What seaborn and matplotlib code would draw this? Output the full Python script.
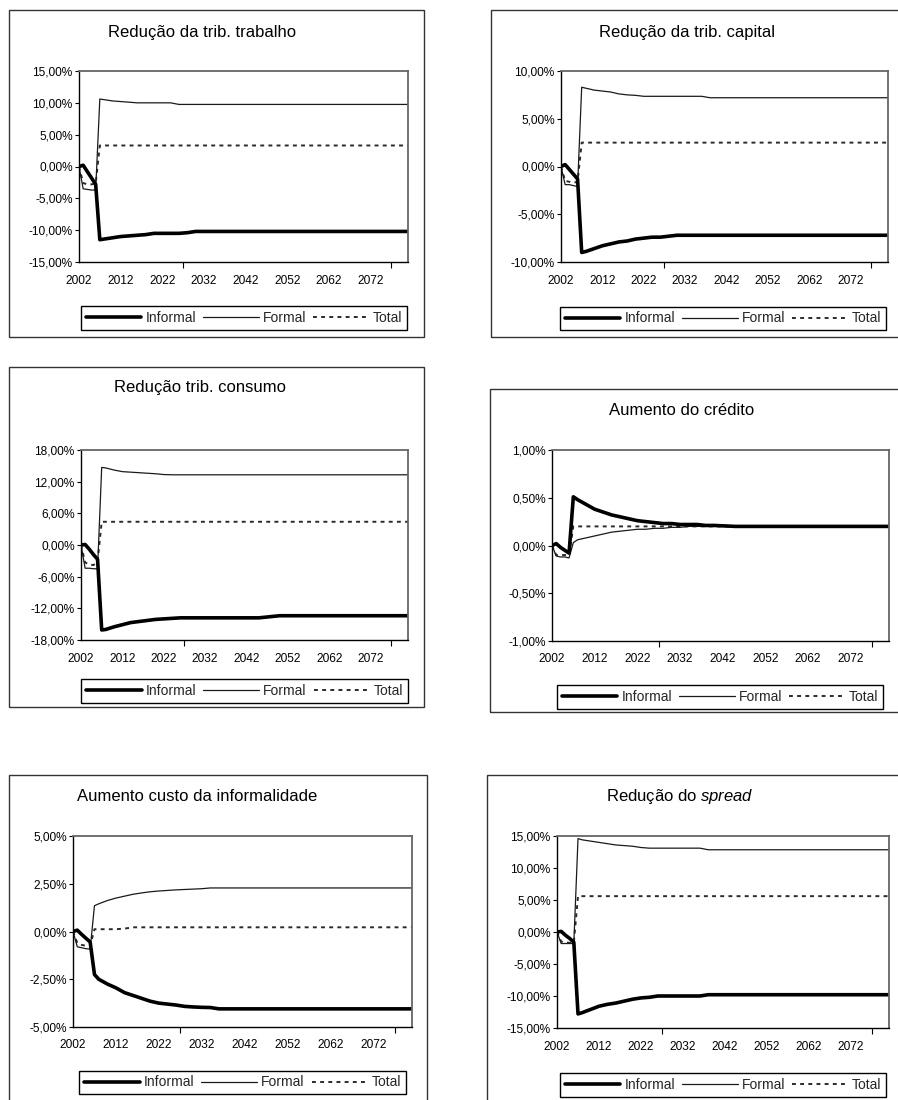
import matplotlib
matplotlib.use('Agg')
import matplotlib.pyplot as plt
import seaborn as sns
import numpy as np
from matplotlib.lines import Line2D
from matplotlib.patches import Rectangle
from matplotlib.ticker import FuncFormatter

# years with a point (lines are straight in between)
YEARS = [2002, 2003, 2004, 2005, 2006, 2007, 2008, 2010, 2012, 2014, 2016, 2018, 2020, 2022,
         2024, 2026, 2028, 2030, 2032, 2034, 2036, 2038, 2040, 2045, 2050, 2060, 2070, 2081]

X_LABEL_YEARS = [2002, 2012, 2022, 2032, 2042, 2052, 2062, 2072]
X_MARK_YEARS = [2027, 2052, 2077]
LEGEND_LABELS = ['Informal', 'Formal', 'Total']

TITLES = ['Redução da trib. trabalho', 'Redução da trib. capital', 'Redução trib. consumo',
          'Aumento do crédito', 'Aumento custo da informalidade', r'Redução do $\it{spread}$']

Y_LIMS = [(-15, 15), (-10, 10), (-18, 18), (-1, 1), (-5, 5), (-15, 15)]
Y_STEPS = [5, 5, 6, 0.5, 2.5, 5]

# values in %
INF_TRABALHO = [0, 0.2, -0.8, -1.8, -2.8, -11.5, -11.4, -11.2, -11.0, -10.9, -10.8, -10.7, -10.5, -10.5,
                -10.5, -10.5, -10.4, -10.2, -10.2, -10.2, -10.2, -10.2, -10.2, -10.2, -10.2, -10.2, -10.2, -10.2]
FOR_TRABALHO = [0, -3.5, -3.6, -3.7, -3.7, 10.6, 10.5, 10.3, 10.2, 10.1, 10.0, 10.0, 10.0, 10.0,
                10.0, 9.75, 9.75, 9.75, 9.75, 9.75, 9.75, 9.75, 9.75, 9.75, 9.75, 9.75, 9.75, 9.75]
TOT_TRABALHO = [0, -2.6, -2.8, -2.8, -2.7, 3.3, 3.3, 3.3, 3.3, 3.3, 3.3, 3.3, 3.3, 3.3,
                3.3, 3.3, 3.3, 3.3, 3.3, 3.3, 3.3, 3.3, 3.3, 3.3, 3.3, 3.3, 3.3, 3.3]

INF_CAPITAL = [0, 0.2, -0.3, -0.8, -1.3, -9.0, -8.9, -8.6, -8.3, -8.1, -7.9, -7.8, -7.6, -7.5,
               -7.4, -7.4, -7.3, -7.2, -7.2, -7.2, -7.2, -7.2, -7.2, -7.2, -7.2, -7.2, -7.2, -7.2]
FOR_CAPITAL = [0, -1.9, -1.9, -2.0, -2.1, 8.3, 8.2, 8.0, 7.9, 7.8, 7.6, 7.5, 7.45, 7.35,
               7.35, 7.35, 7.35, 7.35, 7.35, 7.35, 7.35, 7.2, 7.2, 7.2, 7.2, 7.2, 7.2, 7.2]
TOT_CAPITAL = [0, -1.5, -1.6, -1.7, -1.6, 2.5, 2.5, 2.5, 2.5, 2.5, 2.5, 2.5, 2.5, 2.5,
               2.5, 2.5, 2.5, 2.5, 2.5, 2.5, 2.5, 2.5, 2.5, 2.5, 2.5, 2.5, 2.5, 2.5]

INF_CONSUMO = [0, 0.1, -0.8, -1.8, -2.7, -16.1, -16.0, -15.5, -15.1, -14.7, -14.5, -14.3, -14.1, -14.0,
               -13.9, -13.8, -13.8, -13.8, -13.8, -13.8, -13.8, -13.8, -13.8, -13.8, -13.4, -13.4, -13.4, -13.4]
FOR_CONSUMO = [0, -4.4, -4.4, -4.5, -4.5, 14.7, 14.6, 14.2, 13.9, 13.8, 13.7, 13.6, 13.5, 13.35,
               13.3, 13.3, 13.3, 13.3, 13.3, 13.3, 13.3, 13.3, 13.3, 13.3, 13.3, 13.3, 13.3, 13.3]
TOT_CONSUMO = [0, -3.3, -3.7, -3.8, -3.2, 4.4, 4.4, 4.4, 4.4, 4.4, 4.4, 4.4, 4.4, 4.4,
               4.4, 4.4, 4.4, 4.4, 4.4, 4.4, 4.4, 4.4, 4.4, 4.4, 4.4, 4.4, 4.4, 4.4]

INF_CREDITO = [0, 0.02, -0.02, -0.05, -0.08, 0.51, 0.48, 0.43, 0.38, 0.35, 0.32, 0.30, 0.28, 0.26,
               0.25, 0.24, 0.23, 0.23, 0.22, 0.22, 0.22, 0.21, 0.21, 0.20, 0.20, 0.20, 0.20, 0.20]
FOR_CREDITO = [0, -0.11, -0.12, -0.12, -0.13, 0.03, 0.06, 0.08, 0.10, 0.12, 0.14, 0.15, 0.16, 0.17,
               0.17, 0.18, 0.18, 0.19, 0.19, 0.20, 0.20, 0.20, 0.20, 0.20, 0.20, 0.20, 0.20, 0.20]
TOT_CREDITO = [0, -0.1, -0.1, -0.1, -0.1, 0.2, 0.2, 0.2, 0.2, 0.2, 0.2, 0.2, 0.2, 0.2,
               0.2, 0.2, 0.2, 0.2, 0.2, 0.2, 0.2, 0.2, 0.2, 0.2, 0.2, 0.2, 0.2, 0.2]

INF_INFORMAL = [0, 0.07, -0.15, -0.35, -0.55, -2.25, -2.5, -2.75, -2.95, -3.2, -3.35, -3.5, -3.65, -3.75,
                -3.8, -3.85, -3.92, -3.95, -3.97, -3.98, -4.05, -4.05, -4.05, -4.05, -4.05, -4.05, -4.05, -4.05]
FOR_INFORMAL = [0, -0.8, -0.85, -0.9, -0.92, 1.35, 1.45, 1.62, 1.75, 1.85, 1.95, 2.02, 2.08, 2.12,
                2.15, 2.18, 2.2, 2.22, 2.24, 2.28, 2.28, 2.28, 2.28, 2.28, 2.28, 2.28, 2.28, 2.28]
TOT_INFORMAL = [0, -0.6, -0.7, -0.75, -0.75, 0.12, 0.12, 0.12, 0.12, 0.15, 0.22, 0.22, 0.22, 0.22,
                0.22, 0.22, 0.22, 0.22, 0.22, 0.22, 0.22, 0.22, 0.22, 0.22, 0.22, 0.22, 0.22, 0.22]

INF_SPREAD = [0, 0.1, -0.5, -1.0, -1.6, -12.8, -12.6, -12.1, -11.6, -11.3, -11.1, -10.8, -10.5, -10.3,
              -10.2, -10.0, -10.0, -10.0, -10.0, -10.0, -10.0, -9.8, -9.8, -9.8, -9.8, -9.8, -9.8, -9.8]
FOR_SPREAD = [0, -1.8, -1.8, -1.8, -1.8, 14.6, 14.4, 14.2, 14.0, 13.8, 13.6, 13.5, 13.4, 13.2,
              13.1, 13.1, 13.1, 13.1, 13.1, 13.1, 13.1, 12.85, 12.85, 12.85, 12.85, 12.85, 12.85, 12.85]
TOT_SPREAD = [0, -1.5, -1.6, -1.7, -1.7, 5.6, 5.6, 5.6, 5.6, 5.6, 5.6, 5.6, 5.6, 5.6,
              5.6, 5.6, 5.6, 5.6, 5.6, 5.6, 5.6, 5.6, 5.6, 5.6, 5.6, 5.6, 5.6, 5.6]

SERIES = [(INF_TRABALHO, FOR_TRABALHO, TOT_TRABALHO),
          (INF_CAPITAL, FOR_CAPITAL, TOT_CAPITAL),
          (INF_CONSUMO, FOR_CONSUMO, TOT_CONSUMO),
          (INF_CREDITO, FOR_CREDITO, TOT_CREDITO),
          (INF_INFORMAL, FOR_INFORMAL, TOT_INFORMAL),
          (INF_SPREAD, FOR_SPREAD, TOT_SPREAD)]

# layout in pixels: outer box, plot area (l, t, r, b), legend box, title (x centre, baseline)
BOXES = [(9, 10, 424, 337), (491, 10, 905, 337), (9, 367, 424, 707),
         (490, 389, 905, 712), (9, 775, 427, 1105), (487, 775, 905, 1105)]
PLOTS = [(79, 71, 408, 262), (561, 71, 888, 262), (81, 450, 408, 640),
         (552, 450, 889, 641), (73, 836, 412, 1027), (557, 836, 889, 1028)]
LEGENDS = [(76, 305, 412, 331), (558, 305, 888, 332), (77, 678, 412, 704),
           (550, 684, 890, 710), (72, 1070, 413, 1095), (553, 1072, 893, 1098)]
TITLE_POS = [(202, 37), (687, 37), (200, 392), (682, 415), (197, 801), (680, 801)]

sns.set_theme(style='white')
plt.rcParams['font.family'] = ['Liberation Sans', 'DejaVu Sans']
plt.rcParams['mathtext.fontset'] = 'custom'
plt.rcParams['mathtext.rm'] = 'Liberation Sans'
plt.rcParams['mathtext.it'] = 'Liberation Sans:italic'

W, H = 898, 1100
fig = plt.figure(figsize=(W / 100, H / 100), dpi=100)
fig.patch.set_facecolor('white')

INF_STYLE = dict(color='black', linewidth=2.6, linestyle='-')
FOR_STYLE = dict(color='#1a1a1a', linewidth=0.9, linestyle='-')
TOT_STYLE = dict(color='#2a2a2a', linewidth=1.4, linestyle=(0, (2.0, 2.2)))

pct = FuncFormatter(lambda v, pos: f'{v + 0.0:.2f}'.replace('.', ',') + '%')

for i in range(6):
    x0, y0, x1, y1 = BOXES[i]
    fig.patches.append(Rectangle((x0 / W, 1 - y1 / H), (x1 - x0) / W, (y1 - y0) / H,
                                 transform=fig.transFigure, fill=False,
                                 edgecolor='#333333', linewidth=1.0))

    l, t, r, b = PLOTS[i]
    ax = fig.add_axes([l / W, 1 - b / H, (r - l) / W, (b - t) / H])
    inf, frm, tot = SERIES[i]
    sns.lineplot(x=YEARS, y=tot, ax=ax, **TOT_STYLE)
    sns.lineplot(x=YEARS, y=frm, ax=ax, **FOR_STYLE)
    sns.lineplot(x=YEARS, y=inf, ax=ax, **INF_STYLE)

    lo, hi = Y_LIMS[i]
    ax.set_ylim(lo, hi)
    ax.set_yticks(np.arange(lo, hi + Y_STEPS[i] / 2, Y_STEPS[i]))
    ax.yaxis.set_major_formatter(pct)
    ax.set_xlim(2002, 2081)
    ax.set_xticks(X_LABEL_YEARS)
    ax.set_xticklabels([str(y) for y in X_LABEL_YEARS])
    ax.set_xticks(X_MARK_YEARS, minor=True)
    ax.tick_params(axis='x', which='major', bottom=True, length=0, pad=9, labelsize=8.6, colors='black')
    ax.tick_params(axis='x', which='minor', bottom=True, length=4, width=0.8, direction='out', color='black')
    ax.tick_params(axis='y', left=True, length=3, width=0.8, direction='out', pad=1.5,
                   labelsize=8.6, colors='black')
    ax.set_xlabel('')
    ax.set_ylabel('')
    for s in ['left', 'bottom']:
        ax.spines[s].set_color('black')
        ax.spines[s].set_linewidth(1.0)
    for s in ['top', 'right']:
        ax.spines[s].set_color('#666666')
        ax.spines[s].set_linewidth(1.3)

    tx, ty = TITLE_POS[i]
    fig.text(tx / W, 1 - ty / H, TITLES[i], ha='center', va='baseline', fontsize=12, color='black')

    lx0, ly0, lx1, ly1 = LEGENDS[i]
    handles = [Line2D([], [], **INF_STYLE), Line2D([], [], **FOR_STYLE), Line2D([], [], **TOT_STYLE)]
    leg = ax.legend(handles, LEGEND_LABELS, loc='center',
                    bbox_to_anchor=((lx0 + lx1) / 2 / W, 1 - (ly0 + ly1) / 2 / H),
                    bbox_transform=fig.transFigure, ncol=3, fontsize=10,
                    frameon=True, fancybox=False, shadow=False, framealpha=1,
                    edgecolor='black', handlelength=4, handletextpad=0.3,
                    columnspacing=0.5, borderpad=0.35, borderaxespad=0)
    leg.get_frame().set_linewidth(1.0)

fig.savefig('out.png', dpi=100, facecolor='white')
